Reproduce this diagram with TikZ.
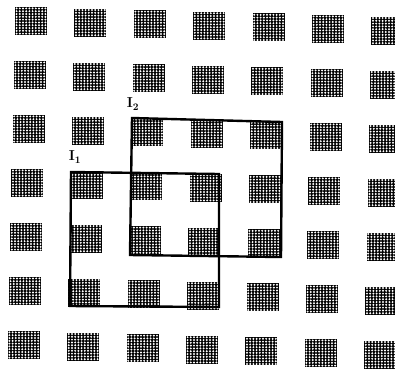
\documentclass[tikz,border=0pt]{standalone}
\begin{document}
\begin{tikzpicture}[x=1pt,y=-1pt,
  patch/.style={fill=black},
  hole/.style={fill=white},
  frame/.style={draw=black,line width=2.4pt,line join=miter},
  lbl/.style={font=\Large,inner sep=0pt}]
\useasboundingbox (0,0) rectangle (395,373);
\foreach \r in {0,...,6}{
  \foreach \c in {0,...,6}{
    \pgfmathsetmacro{\cx}{31+59.4*\c-1.2*\r}
    \pgfmathsetmacro{\cy}{21+54*\r+1.6*\c}
    \begin{scope}[shift={(\cx,\cy)}]
      \fill[patch] (-16,-14) rectangle (16,14);
      \foreach \i in {-5,...,4}{
        \foreach \j in {-5,...,4}{
          \fill[hole] (\i*3.2+1.6,\j*2.8+1.4) circle (1.1);
        }
      }
    \end{scope}
  }
}
\draw[frame] (71,172) -- (219,174) -- (219,307) -- (70,306) -- cycle;
\draw[frame] (132,118) -- (282,122) -- (281,257) -- (130,255) -- cycle;
\node[lbl] (l1) at (75,157) {$\mathbf{I}_{\mathbf{1}}$};
\node[lbl] (l2) at (133,104) {$\mathbf{I}_{\mathbf{2}}$};
\end{tikzpicture}
\end{document}
